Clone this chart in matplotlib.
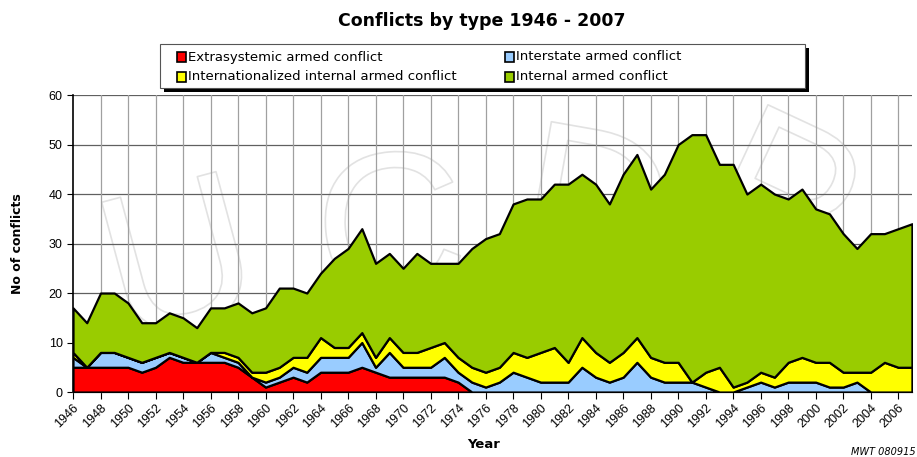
import numpy as np
import matplotlib
matplotlib.use("Agg")
import matplotlib.pyplot as plt
import matplotlib.patheffects as pe
from matplotlib.patches import Rectangle

years = list(range(1946, 2008))

extrasystemic = [5, 5, 5, 5, 5, 4, 5, 7, 6, 6,
                 6, 6, 5, 3, 1, 2, 3, 2, 4, 4,
                 4, 5, 4, 3, 3, 3, 3, 3, 2, 0,
                 0, 0, 0, 0, 0, 0, 0, 0, 0, 0,
                 0, 0, 0, 0, 0, 0, 0, 0, 0, 0,
                 0, 0, 0, 0, 0, 0, 0, 0, 0, 0,
                 0, 0]
interstate = [2, 0, 3, 3, 2, 2, 2, 1, 1, 0,
              2, 1, 1, 0, 1, 1, 2, 2, 3, 3,
              3, 5, 1, 5, 2, 2, 2, 4, 2, 2,
              1, 2, 4, 3, 2, 2, 2, 5, 3, 2,
              3, 6, 3, 2, 2, 2, 1, 0, 0, 1,
              2, 1, 2, 2, 2, 1, 1, 2, 0, 0,
              0, 0]
internationalized = [1, 0, 0, 0, 0, 0, 0, 0, 0, 0,
                     0, 1, 1, 1, 2, 2, 2, 3, 4, 2,
                     2, 2, 2, 3, 3, 3, 4, 3, 3, 3,
                     3, 3, 4, 4, 6, 7, 4, 6, 5, 4,
                     5, 5, 4, 4, 4, 0, 3, 5, 1, 1,
                     2, 2, 4, 5, 4, 5, 3, 2, 4, 6,
                     5, 5]
internal = [9, 9, 12, 12, 11, 8, 7, 8, 8, 7,
            9, 9, 11, 12, 13, 16, 14, 13, 13, 18,
            20, 21, 19, 17, 17, 20, 17, 16, 19, 24,
            27, 27, 30, 32, 31, 33, 36, 33, 34, 32,
            36, 37, 34, 38, 44, 50, 48, 41, 45, 38,
            38, 37, 33, 34, 31, 30, 28, 25, 28, 26,
            28, 29]

labels = ["Extrasystemic armed conflict", "Interstate armed conflict",
          "Internationalized internal armed conflict", "Internal armed conflict"]
colors = ["#ff0000", "#99ccff", "#ffff00", "#99cc00"]

plt.rcParams['font.family'] = ['Liberation Sans', 'DejaVu Sans']

fig = plt.figure(figsize=(9.17, 4.57), dpi=100)
ax = fig.add_axes([0.0796, 0.1422, 0.9149, 0.6498])

# faint watermark letters behind the data
for ch, x, y, rot in [("U", 0.13, 0.40, 15), ("C", 0.38, 0.50, 5),
                      ("D", 0.62, 0.58, -10), ("P", 0.84, 0.62, -25)]:
    ax.text(x, y, ch, transform=ax.transAxes, fontsize=150, color="none",
            ha="center", va="center", rotation=rot, zorder=0.5,
            path_effects=[pe.Stroke(linewidth=1.2, foreground="#e2e2e2")])

ax.stackplot(years, extrasystemic, interstate, internationalized, internal,
             colors=colors, edgecolor="black", linewidth=1.6, zorder=3)

ax.set_xlim(1946, 2007)
ax.set_ylim(0, 60)
ax.set_yticks(range(0, 61, 10))
ax.set_xticks(range(1946, 2007, 2))
ax.set_xticklabels([str(y) for y in range(1946, 2007, 2)], rotation=45,
                   ha="right", rotation_mode="anchor", fontsize=9)
ax.tick_params(axis="y", labelsize=9, length=4, direction="out")
ax.tick_params(axis="x", length=5, direction="out", pad=2)

for y in range(10, 61, 10):
    ax.axhline(y, color="#606060", linewidth=0.9, zorder=1)
for x in range(1948, 2007, 2):
    ax.axvline(x, color="#a0a0a0", linewidth=0.9, zorder=1)

for side in ["top", "right"]:
    ax.spines[side].set_visible(False)
ax.spines["left"].set_linewidth(1.2)
ax.spines["bottom"].set_linewidth(1.0)
ax.spines["bottom"].set_color("#808080")

ax.set_ylabel("No of conflicts", fontsize=9, fontweight="bold", labelpad=18,
              family="DejaVu Sans")
fig.text(0.527, 0.02, "Year", fontsize=9.5, fontweight="bold", ha="center",
         family="DejaVu Sans")
fig.text(0.998, 0.005, "MWT 080915", fontsize=7, style="italic", ha="right",
         family="DejaVu Sans")
fig.text(0.525, 0.955, "Conflicts by type 1946 - 2007", fontsize=12.5,
         fontweight="bold", ha="center", va="center", family="DejaVu Sans")

# legend box with shadow
lx0, ly0, lw, lh = 160 / 917, 1 - 88 / 457, 645 / 917, 44 / 457
fig.patches.append(Rectangle((lx0 + 4 / 917, ly0 - 4 / 457), lw, lh,
                             transform=fig.transFigure, facecolor="black",
                             edgecolor="none", zorder=1))
fig.patches.append(Rectangle((lx0, ly0), lw, lh, transform=fig.transFigure,
                             facecolor="white", edgecolor="#555555",
                             linewidth=0.8, zorder=2))
entries = [(177, 57, 0), (505, 57, 1), (177, 77, 2), (505, 77, 3)]
for px, py, i in entries:
    fig.patches.append(Rectangle((px / 917, 1 - (py + 5) / 457), 9 / 917, 10 / 457,
                                 transform=fig.transFigure, facecolor=colors[i],
                                 edgecolor="black", linewidth=1.2, zorder=3))
    fig.text((px + 11) / 917, 1 - py / 457, labels[i], fontsize=9.5,
             va="center", ha="left", zorder=4, family="DejaVu Sans")

fig.savefig("out.png", dpi=100)
